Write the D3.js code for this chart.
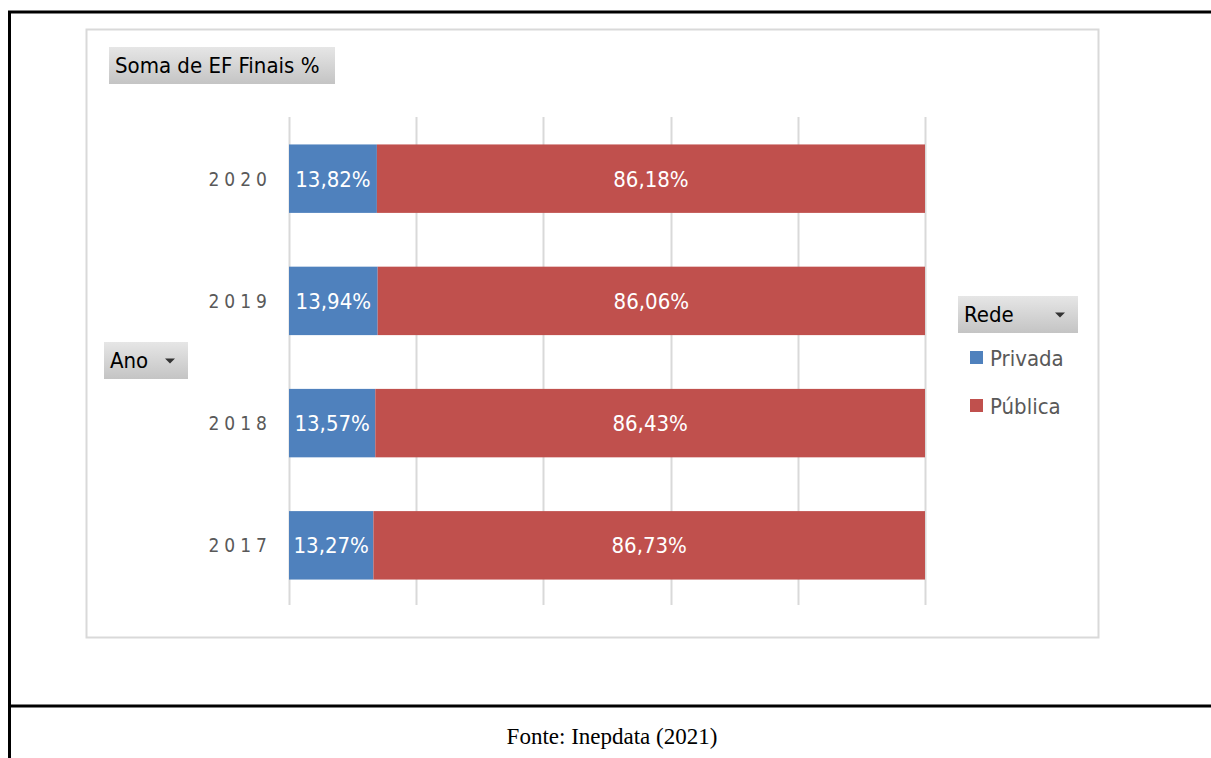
<!DOCTYPE html>
<html>
<head>
<meta charset="utf-8">
<script src="https://cdn.jsdelivr.net/npm/d3@7"></script>
<style>
  body { margin: 0; background: #fff; }
  svg { display: block; }
</style>
</head>
<body>
<svg id="chart" width="1211" height="758"></svg>
<script>
// data
const years = ['2020', '2019', '2018', '2017'];
const privada = [13.82, 13.94, 13.57, 13.27];
const publica = [86.18, 86.06, 86.43, 86.73];
const series_names = ['Privada', 'Pública'];
const series_colors = ['#4f81bd', '#c0504d'];
const x_ticks = [0, 20, 40, 60, 80, 100];

const svg = d3.select('#chart');
const ui_font = '"DejaVu Sans Condensed", "DejaVu Sans", sans-serif';

// gradient for the pivot buttons
const defs = svg.append('defs');
const grad = defs.append('linearGradient').attr('id', 'btn').attr('x1', 0).attr('y1', 0).attr('x2', 0).attr('y2', 1);
grad.append('stop').attr('offset', '0%').attr('stop-color', '#e6e6e6');
grad.append('stop').attr('offset', '100%').attr('stop-color', '#c4c4c4');

// outer frame
svg.append('line').attr('x1', 8).attr('x2', 1211).attr('y1', 12).attr('y2', 12).attr('stroke', '#000').attr('stroke-width', 3);
svg.append('line').attr('x1', 9.5).attr('x2', 9.5).attr('y1', 11).attr('y2', 758).attr('stroke', '#000').attr('stroke-width', 3);
svg.append('line').attr('x1', 8).attr('x2', 1211).attr('y1', 706).attr('y2', 706).attr('stroke', '#000').attr('stroke-width', 3);

svg.append('text')
  .attr('x', 612).attr('y', 744)
  .attr('text-anchor', 'middle')
  .style('font-family', '"Liberation Serif", serif')
  .style('font-size', '23px')
  .attr('fill', '#000')
  .text('Fonte: Inepdata (2021)');

// chart area border
svg.append('rect').attr('x', 86.5).attr('y', 29.5).attr('width', 1012).attr('height', 608)
  .attr('fill', '#fff').attr('stroke', '#d9d9d9').attr('stroke-width', 2);

const x = d3.scaleLinear().domain([0, 100]).range([289, 925]);
const y = d3.scaleBand().domain(years).range([120, 604]).paddingInner(0.44).paddingOuter(0.2);

// gridlines
svg.append('g').selectAll('line').data(x_ticks).join('line')
  .attr('x1', d => Math.round(x(d)) + 0.5).attr('x2', d => Math.round(x(d)) + 0.5)
  .attr('y1', 117).attr('y2', 605)
  .attr('stroke', '#d9d9d9').attr('stroke-width', 2);

// stacked bars
const rows = years.map((yr, i) => ({ year: yr, values: [privada[i], publica[i]] }));
const fmt = v => v.toFixed(2).replace('.', ',') + '%';

rows.forEach(function(r) {
  let acc = 0;
  r.values.forEach(function(v, si) {
    const x0 = x(acc), x1 = x(acc + v);
    svg.append('rect')
      .attr('x', x0).attr('y', y(r.year))
      .attr('width', x1 - x0).attr('height', y.bandwidth())
      .attr('fill', series_colors[si]);
    svg.append('text')
      .attr('x', (x0 + x1) / 2).attr('y', y(r.year) + y.bandwidth() / 2)
      .attr('dy', '0.36em')
      .attr('text-anchor', 'middle')
      .style('font-family', ui_font)
      .style('font-size', '22px')
      .attr('fill', '#fff')
      .text(fmt(v));
    acc += v;
  });
});

// year labels
svg.append('g').selectAll('text').data(years).join('text')
  .attr('x', 272).attr('y', d => y(d) + y.bandwidth() / 2)
  .attr('dy', '0.36em')
  .attr('text-anchor', 'end')
  .style('font-family', ui_font)
  .style('font-size', '19px')
  .style('letter-spacing', '5px')
  .attr('fill', '#595959')
  .text(d => d);

// pivot buttons
const draw_button = function(bx, by, bw, bh, label, arrow) {
  svg.append('rect').attr('x', bx).attr('y', by).attr('width', bw).attr('height', bh)
    .attr('fill', 'url(#btn)');
  svg.append('text')
    .attr('x', bx + 6).attr('y', by + bh / 2).attr('dy', '0.36em')
    .style('font-family', ui_font).style('font-size', '22px')
    .attr('fill', '#000').text(label);
  if (arrow) {
    const ax = bx + bw - 18, ay = by + bh / 2;
    svg.append('path')
      .attr('d', 'M' + (ax - 5) + ',' + (ay - 2) + ' L' + (ax + 5) + ',' + (ay - 2) + ' L' + ax + ',' + (ay + 3) + ' Z')
      .attr('fill', '#333');
  }
};
draw_button(109, 47, 226, 37, 'Soma de EF Finais %', false);
draw_button(104, 342, 84, 37, 'Ano', true);
draw_button(958, 296, 120, 37, 'Rede', true);

// legend
const leg = svg.append('g').selectAll('g').data(series_names).join('g')
  .attr('transform', (d, i) => 'translate(970,' + (358 + i * 48) + ')');
leg.append('rect').attr('x', 0).attr('y', -7).attr('width', 13).attr('height', 13)
  .attr('fill', (d, i) => series_colors[i]);
leg.append('text').attr('x', 20).attr('y', 0).attr('dy', '0.36em')
  .style('font-family', ui_font).style('font-size', '22px')
  .attr('fill', '#595959').text(d => d);
</script>
</body>
</html>
